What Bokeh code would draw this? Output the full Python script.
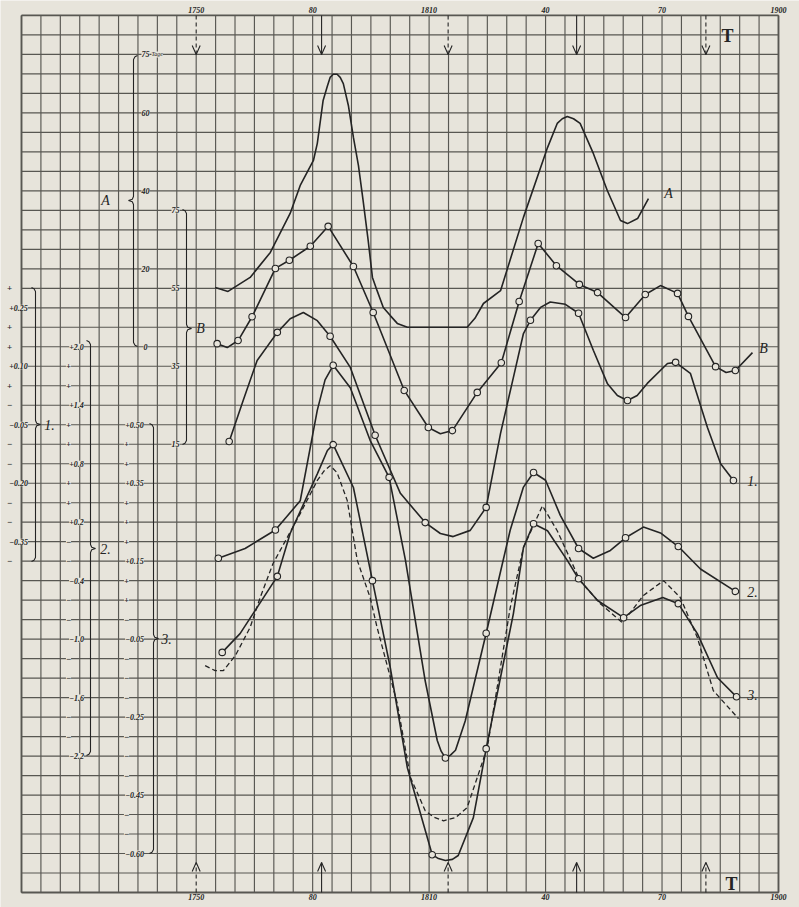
from bokeh.plotting import figure
from bokeh.models import Range1d
from bokeh.embed import file_html
from bokeh.resources import INLINE
from bokeh.core.properties import value

# ---------------- data (years, values in each curve's own units) ----------------
decade_years = [1750, 1780, 1810, 1840, 1870, 1900]
decade_labels = ["1750", "80", "1810", "40", "70", "1900"]

arrow_years = [1750, 1782.3, 1814.9, 1848.0, 1881.3]
arrow_dashed = [True, False, True, False, True]

# Curve A (Tage)
A_year = [1754.9, 1758.2, 1763.9, 1769.1, 1774.2, 1776.8, 1780.2, 1781.2, 1782.7, 1783.8,
          1784.5, 1785.3, 1786.3, 1787.1, 1787.9, 1789.2, 1790.5, 1791.8, 1793.0, 1794.3,
          1795.4, 1796.6, 1798.2, 1800.0, 1801.8, 1804.4, 1819.8, 1821.8, 1824.0, 1828.4,
          1834.3, 1840.5, 1843.0, 1844.3, 1845.6, 1847.2, 1848.9, 1852.3, 1855.9, 1859.3,
          1861.1, 1863.7, 1866.5]
A_val = [15.2, 14.2, 17.8, 24.2, 34.2, 41.4, 47.8, 52.2, 63.2, 66.9,
         69.1, 69.9, 69.9, 69.1, 67.5, 61.9, 53.7, 46.5, 37.5, 27.3,
         17.8, 14.4, 10.1, 8.0, 6.0, 5.0, 5.0, 7.3, 11.1, 14.4,
         33.2, 51.1, 57.3, 58.5, 59.1, 58.5, 57.3, 49.6, 40.1, 32.4,
         31.6, 32.9, 38.0]

# Curve B
B_year = [1755.4, 1758.0, 1760.8, 1764.4, 1770.4, 1774.0, 1779.4, 1784.0, 1790.5, 1795.6,
          1803.6, 1809.8, 1812.9, 1816.0, 1822.4, 1828.6, 1833.2, 1838.1, 1842.8, 1848.7,
          1853.4, 1860.6, 1865.7, 1869.6, 1874.0, 1876.8, 1883.8, 1886.5, 1888.9, 1893.3]
B_val = [40.8, 39.8, 41.6, 47.7, 60.1, 62.2, 65.8, 70.9, 60.6, 48.8,
         28.8, 19.3, 17.7, 18.5, 28.3, 35.9, 51.6, 66.5, 60.8, 56.0,
         53.9, 47.5, 53.4, 55.7, 53.7, 47.8, 34.9, 33.4, 33.9, 38.5]
B_obs_year = [1755.4, 1760.8, 1764.4, 1770.4, 1774.0, 1779.4, 1784.0, 1790.5, 1795.6, 1803.6,
              1809.8, 1816.0, 1822.4, 1828.6, 1833.2, 1838.1, 1842.8, 1848.7, 1853.4, 1860.6,
              1865.7, 1874.0, 1876.8, 1883.8, 1888.9]
B_obs_val = [40.8, 41.6, 47.7, 60.1, 62.2, 65.8, 70.9, 60.6, 48.8, 28.8,
             19.3, 18.5, 28.3, 35.9, 51.6, 66.5, 60.8, 56.0, 53.9, 47.5,
             53.4, 53.7, 47.8, 34.9, 33.9]

# Curve 1
c1_year = [1758.5, 1762.1, 1765.7, 1770.9, 1774.2, 1777.6, 1781.2, 1784.5, 1789.7, 1796.1,
           1802.6, 1809.0, 1812.9, 1816.2, 1820.6, 1824.7, 1828.4, 1831.7, 1834.3, 1836.1,
           1838.7, 1841.2, 1845.1, 1848.5, 1852.3, 1855.9, 1858.5, 1861.1, 1863.6, 1866.2,
           1871.4, 1873.5, 1877.3, 1881.7, 1885.1, 1888.4]
c1_val = [-0.093, 0.012, 0.115, 0.187, 0.222, 0.238, 0.217, 0.177, 0.097, -0.077,
          -0.226, -0.301, -0.329, -0.337, -0.321, -0.262, -0.072, 0.071, 0.184, 0.218,
          0.251, 0.265, 0.259, 0.236, 0.141, 0.056, 0.025, 0.012, 0.025, 0.056,
          0.107, 0.110, 0.082, -0.057, -0.150, -0.193]
c1_obs_year = [1758.5, 1770.9, 1784.5, 1796.1, 1809.0, 1824.7, 1836.1, 1848.5, 1861.1, 1873.5, 1888.4]
c1_obs_val = [-0.093, 0.187, 0.177, -0.077, -0.301, -0.262, 0.218, 0.236, 0.012, 0.110, -0.193]

# Curve 2
c2_year = [1755.7, 1762.6, 1770.4, 1776.8, 1781.2, 1783.2, 1785.3, 1789.7, 1794.8, 1799.7,
           1803.9, 1809.0, 1812.1, 1813.1, 1814.2, 1815.5, 1816.8, 1819.3, 1824.7, 1830.9,
           1834.3, 1836.9, 1840.0, 1843.8, 1848.5, 1852.3, 1856.7, 1860.6, 1865.2, 1869.6,
           1874.2, 1879.9, 1888.9]
c2_val = [-0.17, -0.07, 0.12, 0.42, 1.35, 1.66, 1.81, 1.58, 1.04, 0.66,
          -0.19, -1.43, -2.04, -2.15, -2.22, -2.19, -2.14, -1.84, -0.94, 0.12,
          0.56, 0.71, 0.63, 0.27, -0.07, -0.17, -0.09, 0.04, 0.15, 0.09,
          -0.05, -0.28, -0.51]
c2_obs_year = [1755.7, 1770.4, 1785.3, 1799.7, 1814.2, 1824.7, 1836.9, 1848.5, 1860.6, 1874.2, 1888.9]
c2_obs_val = [-0.17, 0.12, 1.81, 0.66, -2.22, -0.94, 0.71, -0.07, 0.04, -0.05, -0.51]

# Curve 3 (solid)
c3_year = [1756.7, 1761.3, 1766.0, 1770.9, 1774.2, 1781.2, 1783.8, 1785.3, 1790.5, 1795.4,
           1800.0, 1804.4, 1810.8, 1812.4, 1814.2, 1816.0, 1817.5, 1821.4, 1824.7, 1831.7,
           1834.3, 1836.9, 1840.5, 1845.6, 1848.5, 1853.4, 1860.1, 1864.4, 1870.2, 1874.2,
           1879.1, 1884.3, 1889.2]
c3_val = [-0.084, -0.036, 0.036, 0.111, 0.221, 0.374, 0.434, 0.449, 0.339, 0.100,
          -0.123, -0.380, -0.603, -0.613, -0.618, -0.615, -0.605, -0.508, -0.331, 0.015,
          0.185, 0.246, 0.228, 0.152, 0.105, 0.049, 0.005, 0.036, 0.057, 0.041,
          -0.036, -0.149, -0.198]
c3_obs_year = [1756.7, 1770.9, 1785.3, 1795.4, 1810.8, 1824.7, 1836.9, 1848.5, 1860.1, 1874.2, 1889.2]
c3_obs_val = [-0.084, 0.111, 0.449, 0.100, -0.603, -0.331, 0.246, 0.105, 0.005, 0.041, -0.198]

# Curve 3 (dashed companion)
c3d_year = [1752.3, 1754.9, 1757.0, 1760.1, 1763.9, 1766.5, 1769.8, 1776.8, 1781.2, 1783.0,
            1784.5, 1786.3, 1788.9, 1791.5, 1794.8, 1796.6, 1801.8, 1805.2, 1809.0, 1811.1,
            1813.7, 1816.8, 1819.8, 1825.0, 1830.9, 1834.3, 1839.2, 1843.0, 1848.9, 1854.1,
            1859.8, 1865.2, 1870.4, 1874.7, 1879.1, 1883.2, 1889.7]
c3d_val = [-0.118, -0.131, -0.131, -0.092, -0.020, 0.057, 0.144, 0.272, 0.357, 0.382,
           0.395, 0.377, 0.306, 0.152, 0.057, -0.020, -0.215, -0.405, -0.490, -0.506,
           -0.516, -0.508, -0.482, -0.328, 0.031, 0.185, 0.292, 0.228, 0.100, 0.041,
           -0.008, 0.062, 0.100, 0.057, -0.046, -0.182, -0.254]

# Scale ticks of the left-hand scales
A_ticks = [75, 60, 40, 20, 0]
A_tick_text = ["75", "60", "40", "20", "0"]
B_ticks = [75, 55, 35, 15]
S1_ticks = [0.25, 0.10, -0.05, -0.20, -0.35]
S1_span = (-0.40, 0.30)
S2_ticks = [2.0, 1.4, 0.8, 0.2, -0.4, -1.0, -1.6, -2.2]
S2_span = (-2.2, 2.0)
S3_ticks = [0.50, 0.35, 0.15, -0.05, -0.25, -0.45, -0.60]
S3_span = (-0.60, 0.50)

# ---------------- geometry ----------------
PAPER = "#e7e4db"
INK = "#242424"
GRIDC = "#585752"
W, H = 799, 907
PX_YR = 3.882          # pixels per year
PX_ROW = 19.49         # pixels per grid row
X0 = 1705 - 21 / PX_YR
X1 = X0 + W / PX_YR
R1 = 892 / PX_ROW
R0 = (892 - H) / PX_ROW

# each scale: row of its zero value, units per grid row
SCALES = {"A": (28, 5.0), "B": (20, 5.0), "s1": (25, 0.05), "s2": (18, 0.2), "s3": (14, 0.05)}


def xr(px):
    return X0 + px / PX_YR


def rr(py):
    return (892 - py) / PX_ROW


p = figure(width=W, height=H, x_range=Range1d(X0, X1), y_range=Range1d(R0, R1),
           output_backend="svg", toolbar_location=None, min_border=0,
           x_axis_location=None, y_axis_location=None,
           background_fill_color=PAPER, border_fill_color=PAPER, outline_line_color=None)
p.xgrid.visible = False
p.ygrid.visible = False
for name, (z, u) in SCALES.items():
    p.extra_y_ranges[name] = Range1d((R0 - z) * u, (R1 - z) * u)

# ---------------- grid ----------------
gx, gy = [], []
for yr in range(1705, 1901, 5):
    y0, y1 = 0, 45
    if yr in (1750, 1815):
        y0, y1 = rr(862), rr(54)
    gx.append([yr, yr]); gy.append([y0, y1])
for r in range(0, 46):
    gx.append([1705, 1900]); gy.append([r, r])
p.multi_line(gx, gy, line_color=GRIDC, line_width=1.15)
p.multi_line([[1705, 1705], [1900, 1900], [1705, 1900], [1705, 1900]],
             [[0, 45], [0, 45], [0, 0], [45, 45]], line_color=GRIDC, line_width=1.8)

# ---------------- period arrows ----------------
for yr, d in zip(arrow_years, arrow_dashed):
    dash = "4 3" if d else "solid"
    p.line([yr, yr], [45, rr(54)], line_color=INK, line_width=1.1, line_dash=dash)
    p.line([yr, yr], [0, rr(862)], line_color=INK, line_width=1.1, line_dash=dash)
    dx = 4 / PX_YR
    p.line([yr - dx, yr, yr + dx], [rr(45), rr(54), rr(45)], line_color=INK, line_width=1.1)
    p.line([yr - dx, yr, yr + dx], [rr(871), rr(862), rr(871)], line_color=INK, line_width=1.1)

# ---------------- year labels ----------------
for yy in (rr(9), rr(896)):
    p.text(decade_years, [yy] * len(decade_years), decade_labels,
           text_font=value("Liberation Serif"), text_font_size="8px", text_font_style="bold italic",
           text_color=INK, text_align="center", text_baseline="middle")

# ---------------- braces ----------------
def brace(spine, top, bot, mid, d):
    pts = [(spine - 4 * d, top), (spine - 1.5 * d, top + 1.2), (spine, top + 4),
           (spine, mid - 4), (spine + 1.2 * d, mid - 1.3), (spine + 5 * d, mid),
           (spine + 1.2 * d, mid + 1.3), (spine, mid + 4), (spine, bot - 4),
           (spine - 1.5 * d, bot - 1.2), (spine - 4 * d, bot)]
    return [xr(a) for a, b in pts], [rr(b) for a, b in pts]

braces = [brace(133, 55, 346, 200, -1), brace(186, 209, 444, 328, 1),
          brace(35, 287, 561, 424, 1), brace(90, 340, 755, 548, 1),
          brace(153, 423, 853, 638, 1)]
p.multi_line([b[0] for b in braces], [b[1] for b in braces], line_color=INK, line_width=1.1)

# ---------------- scale labels ----------------
TFONT = value("Liberation Serif")
bg = dict(background_fill_color=PAPER)


def signed(v, nd):
    s = "+" if v > 0 else "\u2212"
    return f"{s}{abs(v):.{nd}f}"


def scale_marks(name, ticks, span, nd, px_label, px_mark):
    z, u = SCALES[name]
    p.text([xr(px_label)] * len(ticks), ticks, [signed(v, nd) for v in ticks],
           y_range_name=name, text_font=TFONT, text_font_size="8px", text_font_style="bold italic",
           text_color=INK, text_align="center", text_baseline="middle", **bg)
    n = int(round((span[1] - span[0]) / u))
    vals = [span[0] + k * u for k in range(n + 1)]
    vals = [v for v in vals if all(abs(v - t) > u / 4 for t in ticks)]
    p.text([xr(px_mark)] * len(vals), vals, ["+" if v > 1e-9 else "\u2212" for v in vals],
           y_range_name=name, text_font=TFONT, text_font_size="9px", text_font_style="bold",
           text_color=INK, text_align="center", text_baseline="middle", **bg)

scale_marks("s1", S1_ticks, S1_span, 2, 18, 9)
scale_marks("s2", S2_ticks, S2_span, 1, 76, 68)
scale_marks("s3", S3_ticks, S3_span, 2, 134, 126)

p.text([xr(145)] * len(A_ticks), A_ticks, A_tick_text, y_range_name="A",
       text_font=TFONT, text_font_size="8px", text_font_style="bold italic",
       text_color=INK, text_align="center", text_baseline="middle", **bg)
p.text([xr(151)], [A_ticks[0]], ["Tage"], y_range_name="A",
       text_font=TFONT, text_font_size="6px", text_font_style="italic",
       text_color=INK, text_align="left", text_baseline="middle", **bg)
p.text([xr(175)] * len(B_ticks), B_ticks, [str(v) for v in B_ticks], y_range_name="B",
       text_font=TFONT, text_font_size="8px", text_font_style="bold italic",
       text_color=INK, text_align="center", text_baseline="middle", **bg)

# brace and curve names
names_x = [105, 200, 49, 105, 166, 668, 763, 752, 752, 752]
names_y = [200, 328, 424, 548, 638, 193, 348, 480, 591, 694]
names_t = ["A", "B", "1.", "2.", "3.", "A", "B", "1.", "2.", "3."]
p.text([xr(v) for v in names_x], [rr(v) for v in names_y], names_t,
       text_font=TFONT, text_font_size="14px", text_font_style="italic",
       text_color=INK, text_align="center", text_baseline="middle")
p.text([xr(727), xr(731)], [rr(35), rr(883)], ["T", "T"],
       text_font=TFONT, text_font_size="18px", text_font_style="bold",
       text_color=INK, text_align="center", text_baseline="middle")

# ---------------- curves ----------------
LW = 1.6
p.line(A_year, A_val, y_range_name="A", line_color=INK, line_width=LW)
p.line(B_year, B_val, y_range_name="B", line_color=INK, line_width=LW)
p.line(c1_year, c1_val, y_range_name="s1", line_color=INK, line_width=LW)
p.line(c2_year, c2_val, y_range_name="s2", line_color=INK, line_width=LW)
p.line(c3_year, c3_val, y_range_name="s3", line_color=INK, line_width=LW)
p.line(c3d_year, c3d_val, y_range_name="s3", line_color=INK, line_width=1.3, line_dash="5 3")

mk = dict(marker="circle", size=6.5, fill_color=PAPER, line_color=INK, line_width=1.1)
p.scatter(B_obs_year, B_obs_val, y_range_name="B", **mk)
p.scatter(c1_obs_year, c1_obs_val, y_range_name="s1", **mk)
p.scatter(c2_obs_year, c2_obs_val, y_range_name="s2", **mk)
p.scatter(c3_obs_year, c3_obs_val, y_range_name="s3", **mk)

open("out.html", "w").write(file_html(p, INLINE))
